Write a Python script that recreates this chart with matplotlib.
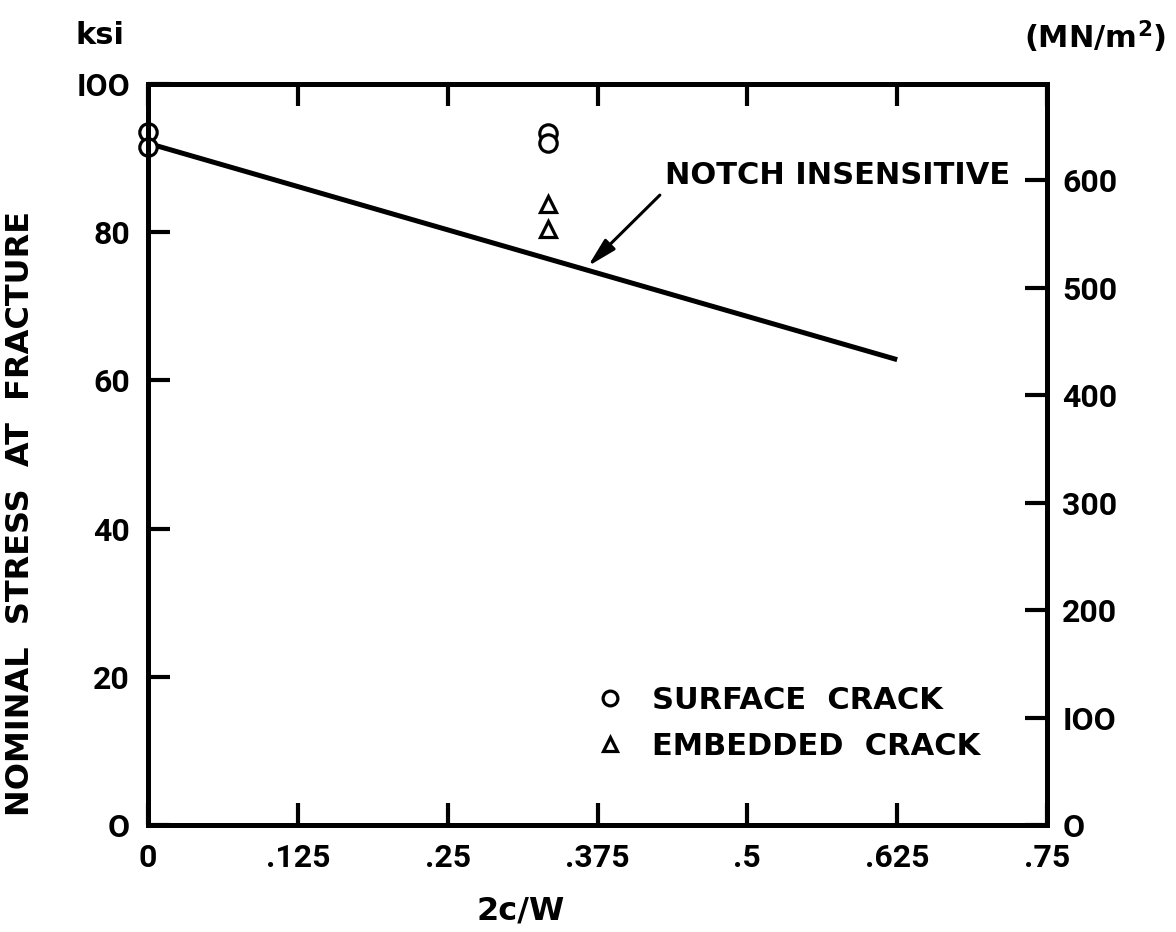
import matplotlib
matplotlib.use("Agg")
import matplotlib.pyplot as plt
from matplotlib.font_manager import FontProperties

# Fracture stress vs. crack length ratio 2c/W
notch_x = [0.0, 0.625]
notch_ksi = [92.0, 62.8]

surface_x = [0.0, 0.0, 1 / 3, 1 / 3]
surface_ksi = [93.5, 91.5, 93.4, 92.0]

embedded_x = [1 / 3, 1 / 3]
embedded_ksi = [83.8, 80.4]

x_ticks = [0, 0.125, 0.25, 0.375, 0.5, 0.625, 0.75]
x_tick_labels = ['0', '.125', '.25', '.375', '.5', '.625', '.75']
ksi_ticks = [0, 20, 40, 60, 80, 100]
mn_ticks = [0, 100, 200, 300, 400, 500, 600]

KSI_TO_MN = 6.895  # 1 ksi in MN/m^2

WORD_FONT = dict(family='DejaVu Sans', weight='bold')
NUM_FONT = FontProperties(family='Roboto', weight='bold', size=23)


def lettered(v):
    # drafting style: round O for zero, bar for one
    return str(v).replace('0', 'O').replace('1', 'I') if v in (0, 100) else str(v)


plt.rcParams['mathtext.default'] = 'bf'

fig = plt.figure(figsize=(11.76, 9.32), dpi=100)
ax = fig.add_axes([148 / 1176, 107 / 932, 899 / 1176, 741 / 932])

ax.plot(notch_x, notch_ksi, color='black', lw=3.6, solid_capstyle='butt')
ax.plot(surface_x, surface_ksi, ls='none', marker='o', ms=12.5, mfc='white',
        mec='black', mew=2.3, clip_on=False, zorder=5, label='SURFACE  CRACK')
ax.plot(embedded_x, embedded_ksi, ls='none', marker='^', ms=11.5, mfc='white',
        mec='black', mew=2.3, clip_on=False, zorder=5, label='EMBEDDED  CRACK')

ax.set_xlim(0, 0.75)
ax.set_ylim(0, 100)
ax.set_xticks(x_ticks)
ax.set_xticklabels(x_tick_labels)
ax.set_yticks(ksi_ticks)
ax.set_yticklabels([lettered(v) for v in ksi_ticks])

for s in ax.spines.values():
    s.set_linewidth(3.6)

ax.tick_params(axis='x', direction='in', length=16, width=3, top=True,
               labeltop=False, pad=13)
ax.tick_params(axis='y', direction='in', length=16, width=3, right=False, pad=13)
for lbl in ax.get_xticklabels() + ax.get_yticklabels():
    lbl.set_fontproperties(NUM_FONT)

# right-hand scale in MN/m^2
ax2 = ax.twinx()
ax2.set_ylim(0, 100 * KSI_TO_MN)
ax2.set_yticks(mn_ticks)
ax2.set_yticklabels([lettered(v) for v in mn_ticks])
ax2.tick_params(axis='y', direction='in', length=16, width=3, pad=11)
for lbl in ax2.get_yticklabels():
    lbl.set_fontproperties(NUM_FONT)
for s in ax2.spines.values():
    s.set_linewidth(3.6)

ax.set_ylabel('NOMINAL  STRESS  AT  FRACTURE', fontsize=23, **WORD_FONT)
ax.yaxis.set_label_coords(-0.125, 0.42)
ax.set_xlabel('2c/W', fontsize=23, **WORD_FONT)
ax.xaxis.set_label_coords(0.415, -0.095)

fig.text(100 / 1176, 1 - 36 / 932, 'ksi', ha='center', va='center',
         fontsize=22, **WORD_FONT)
fig.text(1095 / 1176, 1 - 37 / 932, '(MN/m$^2$)', ha='center', va='center',
         fontsize=22, **WORD_FONT)

ax.annotate('NOTCH INSENSITIVE', xy=(0.367, 75.4), xytext=(0.431, 87.6),
            fontsize=22, va='center', ha='left', **WORD_FONT,
            arrowprops=dict(arrowstyle='-|>,head_length=0.8,head_width=0.2',
                            color='black', lw=2.2, shrinkA=2, shrinkB=0,
                            relpos=(0, 0)))

ax.legend(loc='upper left', bbox_to_anchor=(0.466, 0.225), frameon=False,
          handlelength=1.0, handletextpad=0.9, labelspacing=0.55,
          markerscale=0.85, prop=dict(size=22, **WORD_FONT))

fig.savefig('out.png', dpi=100, facecolor='white')
